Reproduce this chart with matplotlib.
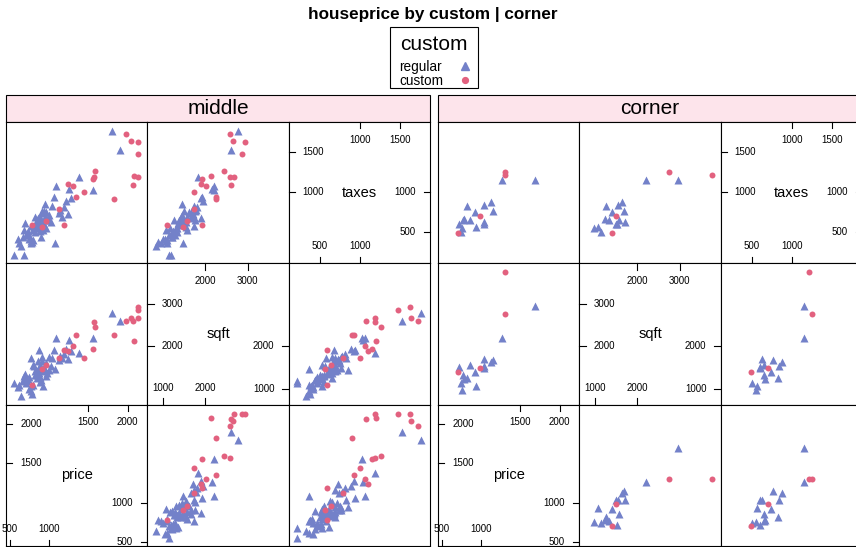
import matplotlib
matplotlib.use("Agg")
import matplotlib.pyplot as plt
from matplotlib.patches import Rectangle
from matplotlib.transforms import blended_transform_factory

plt.rcParams["font.family"] = ["Liberation Sans", "DejaVu Sans"]

# ---- data: (price, sqft, taxes) per house ----
# corner == "middle", custom == "custom"
mid_cus_price = [2135, 2135, 2135, 2084, 2067, 2037, 1982, 1829, 1590, 1573,
                 1556, 1446, 1348, 1301, 1241, 1190, 1122, 960, 905, 786]
mid_cus_sqft = [2676, 2857, 2928, 2125, 2597, 2660, 2589, 2259, 2448, 2574,
                1928, 1723, 2259, 2014, 1896, 1920, 1723, 1573, 1479, 1085]
mid_cus_taxes = [1187, 1479, 1629, 1203, 1082, 1633, 1725, 907, 1258, 1187,
                 1157, 1003, 932, 1070, 1103, 590, 790, 640, 561, 594]

# corner == "middle", custom == "regular"
mid_reg_price = [1897, 1794, 1556, 1377, 1275, 1258, 1241, 1216, 1190, 1165,
                 1122, 1088, 1080, 1063, 1037, 1003, 977, 960, 948, 943,
                 935, 926, 905, 892, 884, 884, 867, 867, 850, 833,
                 816, 799, 782, 765, 748, 739, 726, 714, 697, 684,
                 663, 637, 620, 599, 552, 790, 854, 918, 960, 1020,
                 884, 773, 769, 812, 841, 909, 995, 1139, 875, 705,
                 824, 680]
mid_reg_sqft = [2597, 2778, 2203, 1833, 1888, 2156, 1707, 1936, 1810, 1731,
                1668, 2203, 1479, 1912, 1731, 1754, 1384, 1305, 1455, 1447,
                1494, 1416, 1754, 1219, 1164, 1557, 1904, 1376, 1258, 1455,
                1321, 1101, 880, 1731, 1290, 1006, 1242, 1179, 1361, 1187,
                1211, 841, 1101, 1038, 1148, 1573, 1652, 1061, 1613, 1534,
                1274, 1069, 943, 1534, 1337, 1652, 1447, 1778, 1479, 1132,
                1416, 1298]
mid_reg_taxes = [1529, 1763, 1028, 1187, 928, 1036, 723, 886, 811, 686,
                 736, 1070, 365, 936, 828, 650, 652, 548, 853, 694,
                 765, 611, 760, 444, 548, 694, 678, 590, 652, 611,
                 506, 402, 377, 580, 469, 410, 519, 477, 611, 214,
                 444, 327, 360, 419, 210, 527, 673, 527, 757, 632,
                 519, 394, 360, 569, 548, 736, 715, 778, 644, 469,
                 686, 527]

# corner == "corner"
cor_cus_price = [1300, 1300, 985, 705]
cor_cus_sqft = [2755, 3755, 1500, 1400]
cor_cus_taxes = [1250, 1213, 705, 486]

cor_reg_price = [1692, 1260, 1148, 1120, 1035, 1033, 1040, 935, 918, 852,
                 820, 785, 756, 748, 769, 722]
cor_reg_sqft = [2944, 2200, 1683, 1636, 1715, 1487, 1550, 1060, 1400, 1557,
                1266, 1227, 975, 1132, 1320, 1510]
cor_reg_taxes = [1155, 1155, 765, 880, 624, 600, 835, 565, 745, 655,
                 830, 660, 555, 507, 657, 599]

panels = ["middle", "corner"]
variables = ["price", "sqft", "taxes"]
var_lims = {"price": (450, 2250), "sqft": (628, 3960), "taxes": (110, 1875)}
lower_ticks = {"price": [500, 1000], "sqft": [1000, 2000], "taxes": [500, 1000]}
upper_ticks = {"price": [1500, 2000], "sqft": [2000, 3000], "taxes": [1000, 1500]}

groups = {
    "middle": {
        "regular": dict(price=mid_reg_price, sqft=mid_reg_sqft, taxes=mid_reg_taxes),
        "custom": dict(price=mid_cus_price, sqft=mid_cus_sqft, taxes=mid_cus_taxes),
    },
    "corner": {
        "regular": dict(price=cor_reg_price, sqft=cor_reg_sqft, taxes=cor_reg_taxes),
        "custom": dict(price=cor_cus_price, sqft=cor_cus_sqft, taxes=cor_cus_taxes),
    },
}

COL_REG = "#7381C9"
COL_CUS = "#E2617F"
STRIP = "#FDE4EB"

W, H = 856, 547
fig = plt.figure(figsize=(W / 100, H / 100), dpi=100)

# overlay in pixel coordinates for title, legend, strips
ov = fig.add_axes([0, 0, 1, 1], zorder=0)
ov.set_xlim(0, W); ov.set_ylim(H, 0); ov.axis("off")

ov.text(433, 14, "houseprice by custom | corner", ha="center", va="center",
        fontsize=12.3, fontweight="bold")
ov.add_patch(Rectangle((390, 27), 88, 61, fill=False, lw=0.8, ec="black"))
ov.text(434, 44, "custom", ha="center", va="center", fontsize=15)
ov.text(399, 67, "regular", ha="left", va="center", fontsize=9.8)
ov.text(399, 81, "custom", ha="left", va="center", fontsize=9.8)
ov.plot([465], [66], marker="^", ms=5.5, color=COL_REG, ls="none")
ov.plot([465], [80], marker="o", ms=4.2, color=COL_CUS, ls="none")

cell = 141.3
panel_left = {"middle": 6, "corner": 438}
top = 122

for pname in panels:
    x0 = panel_left[pname]
    ov.add_patch(Rectangle((x0, 95), 3 * cell, 27, fc=STRIP, ec="black", lw=0.8))
    ov.text(x0 + 1.5 * cell, 108.5, pname, ha="center", va="center", fontsize=15)

    for r in range(3):          # r = 0 top row
        yvar = variables[2 - r]
        for c in range(3):
            xvar = variables[c]
            left = x0 + c * cell
            bottom_px = top + (r + 1) * cell
            ax = fig.add_axes([left / W, 1 - bottom_px / H, cell / W, cell / H])
            ax.set_xlim(var_lims[xvar]); ax.set_ylim(var_lims[yvar])
            ax.set_xticks([]); ax.set_yticks([])
            for s in ax.spines.values():
                s.set_linewidth(0.8)
            if xvar == yvar:
                ax.text(0.5, 0.5, xvar, transform=ax.transAxes, ha="center",
                        va="center", fontsize=10.5)
                bx = blended_transform_factory(ax.transData, ax.transAxes)
                by = blended_transform_factory(ax.transAxes, ax.transData)
                tl = 0.045
                for v in upper_ticks[xvar]:
                    ax.plot([v, v], [1, 1 - tl], color="black", lw=0.8, transform=bx, clip_on=False)
                    ax.text(v, 0.875, str(v), transform=bx, ha="center", va="center", fontsize=7)
                    ax.plot([0, tl], [v, v], color="black", lw=0.8, transform=by, clip_on=False)
                    ax.text(0.1, v, str(v), transform=by, ha="left", va="center", fontsize=7)
                for v in lower_ticks[xvar]:
                    ax.plot([v, v], [0, tl], color="black", lw=0.8, transform=bx, clip_on=False)
                    ax.text(v, 0.12, str(v), transform=bx, ha="center", va="center", fontsize=7)
                    ax.plot([1, 1 - tl], [v, v], color="black", lw=0.8, transform=by, clip_on=False)
                    ax.text(0.9, v, str(v), transform=by, ha="right", va="center", fontsize=7)
                continue
            reg = groups[pname]["regular"]
            cus = groups[pname]["custom"]
            ax.plot(reg[xvar], reg[yvar], "^", ms=5.6, color=COL_REG, mec="none", ls="none")
            ax.plot(cus[xvar], cus[yvar], "o", ms=4.3, color=COL_CUS, mec="none", ls="none")

fig.savefig("out.png", dpi=100)
